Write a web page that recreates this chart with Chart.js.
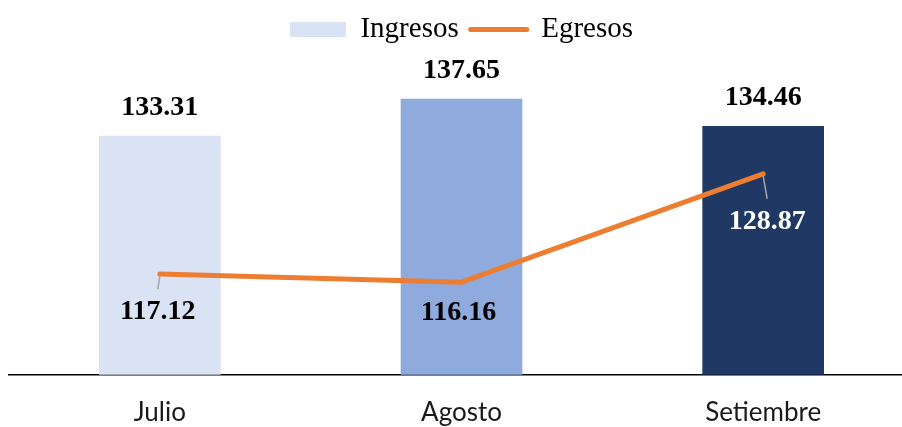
<!DOCTYPE html>
<html>
<head>
<meta charset="utf-8">
<script src="https://cdn.jsdelivr.net/npm/chart.js@4/dist/chart.umd.min.js"></script>
<style>
  html, body { margin: 0; padding: 0; background: #fff; }
  #wrap { width: 902px; height: 427px; overflow: hidden; position: relative; }
  canvas { display: block; }
</style>
</head>
<body>
<div id="wrap"><canvas id="chart" width="914" height="427"></canvas></div>
<script>
// Data
const months = ['Julio', 'Agosto', 'Setiembre'];
const ingresos = [133.31, 137.65, 134.46];
const egresos = [117.12, 116.16, 128.87];

// Colours
const barColors = ['#dae3f3', '#8faadc', '#203864'];
const lineColor = '#ed7d31';

// Placement of the Egresos value labels relative to their points
const egresosLabelOffset = [
  { dx: -2, dy: 38, leader: true, color: '#000000' },
  { dx: -3, dy: 31, leader: false, color: '#000000' },
  { dx: 4, dy: 48, leader: true, color: '#ffffff' }
];

const labelFont = 'bold 28px "Liberation Serif", "Times New Roman", serif';

// Draws value labels above bars and below line points
const valueLabels = {
  id: 'valueLabels',
  beforeInit(chart) {
    const fit = chart.legend.fit;
    chart.legend.fit = function() {
      fit.call(this);
      this.height = 76;
    };
  },
  afterDatasetsDraw(chart) {
    const ctx = chart.ctx;
    ctx.save();
    ctx.font = labelFont;
    ctx.textAlign = 'center';
    ctx.textBaseline = 'middle';

    const barMeta = chart.getDatasetMeta(0);
    barMeta.data.forEach(function(el, i) {
      ctx.fillStyle = '#000000';
      ctx.fillText(ingresos[i].toFixed(2), el.x, el.y - 28);
    });

    const lineMeta = chart.getDatasetMeta(1);
    lineMeta.data.forEach(function(el, i) {
      const o = egresosLabelOffset[i];
      const lx = el.x + o.dx;
      const ly = el.y + o.dy;
      if (o.leader) {
        ctx.strokeStyle = '#a6a6a6';
        ctx.lineWidth = 1.5;
        ctx.beginPath();
        ctx.moveTo(el.x, el.y + 2);
        ctx.lineTo(lx, ly - 23);
        ctx.stroke();
      }
      ctx.fillStyle = o.color;
      ctx.fillText(egresos[i].toFixed(2), lx, ly);
    });
    ctx.restore();
  }
};

new Chart(document.getElementById('chart'), {
  data: {
    labels: months,
    datasets: [{
      type: 'bar',
      label: 'Ingresos',
      data: ingresos,
      backgroundColor: barColors,
      barThickness: 121,
      order: 1
    }, {
      type: 'line',
      label: 'Egresos',
      data: egresos,
      borderColor: lineColor,
      borderWidth: 5,
      borderCapStyle: 'round',
      borderJoinStyle: 'round',
      pointRadius: 0,
      tension: 0,
      order: 0
    }]
  },
  options: {
    responsive: false,
    animation: false,
    layout: {
      padding: { left: 9, right: 0, top: 3, bottom: -23 }
    },
    plugins: {
      tooltip: { enabled: false },
      legend: {
        position: 'top',
        labels: {
          usePointStyle: true,
          pointStyleWidth: 56,
          boxHeight: 15,
          padding: 12,
          color: '#000000',
          font: { family: '"Liberation Serif", "Times New Roman", serif', size: 29 },
          generateLabels: function() {
            return [{
              text: 'Ingresos',
              pointStyle: 'rect',
              fillStyle: barColors[0],
              strokeStyle: barColors[0],
              lineWidth: 0,
              datasetIndex: 0
            }, {
              text: 'Egresos',
              pointStyle: 'line',
              fillStyle: lineColor,
              strokeStyle: lineColor,
              lineWidth: 5,
              lineCap: 'round',
              datasetIndex: 1
            }];
          }
        }
      }
    },
    scales: {
      x: {
        offset: true,
        grid: { display: false, drawTicks: false },
        border: { display: true, color: '#000000', width: 1.5 },
        ticks: {
          padding: 22,
          color: '#1a1a1a',
          font: { family: 'Lato, "Open Sans", sans-serif', size: 26 }
        }
      },
      y: {
        display: false,
        min: 105.3,
        max: 140
      }
    }
  },
  plugins: [valueLabels]
});
</script>
</body>
</html>
